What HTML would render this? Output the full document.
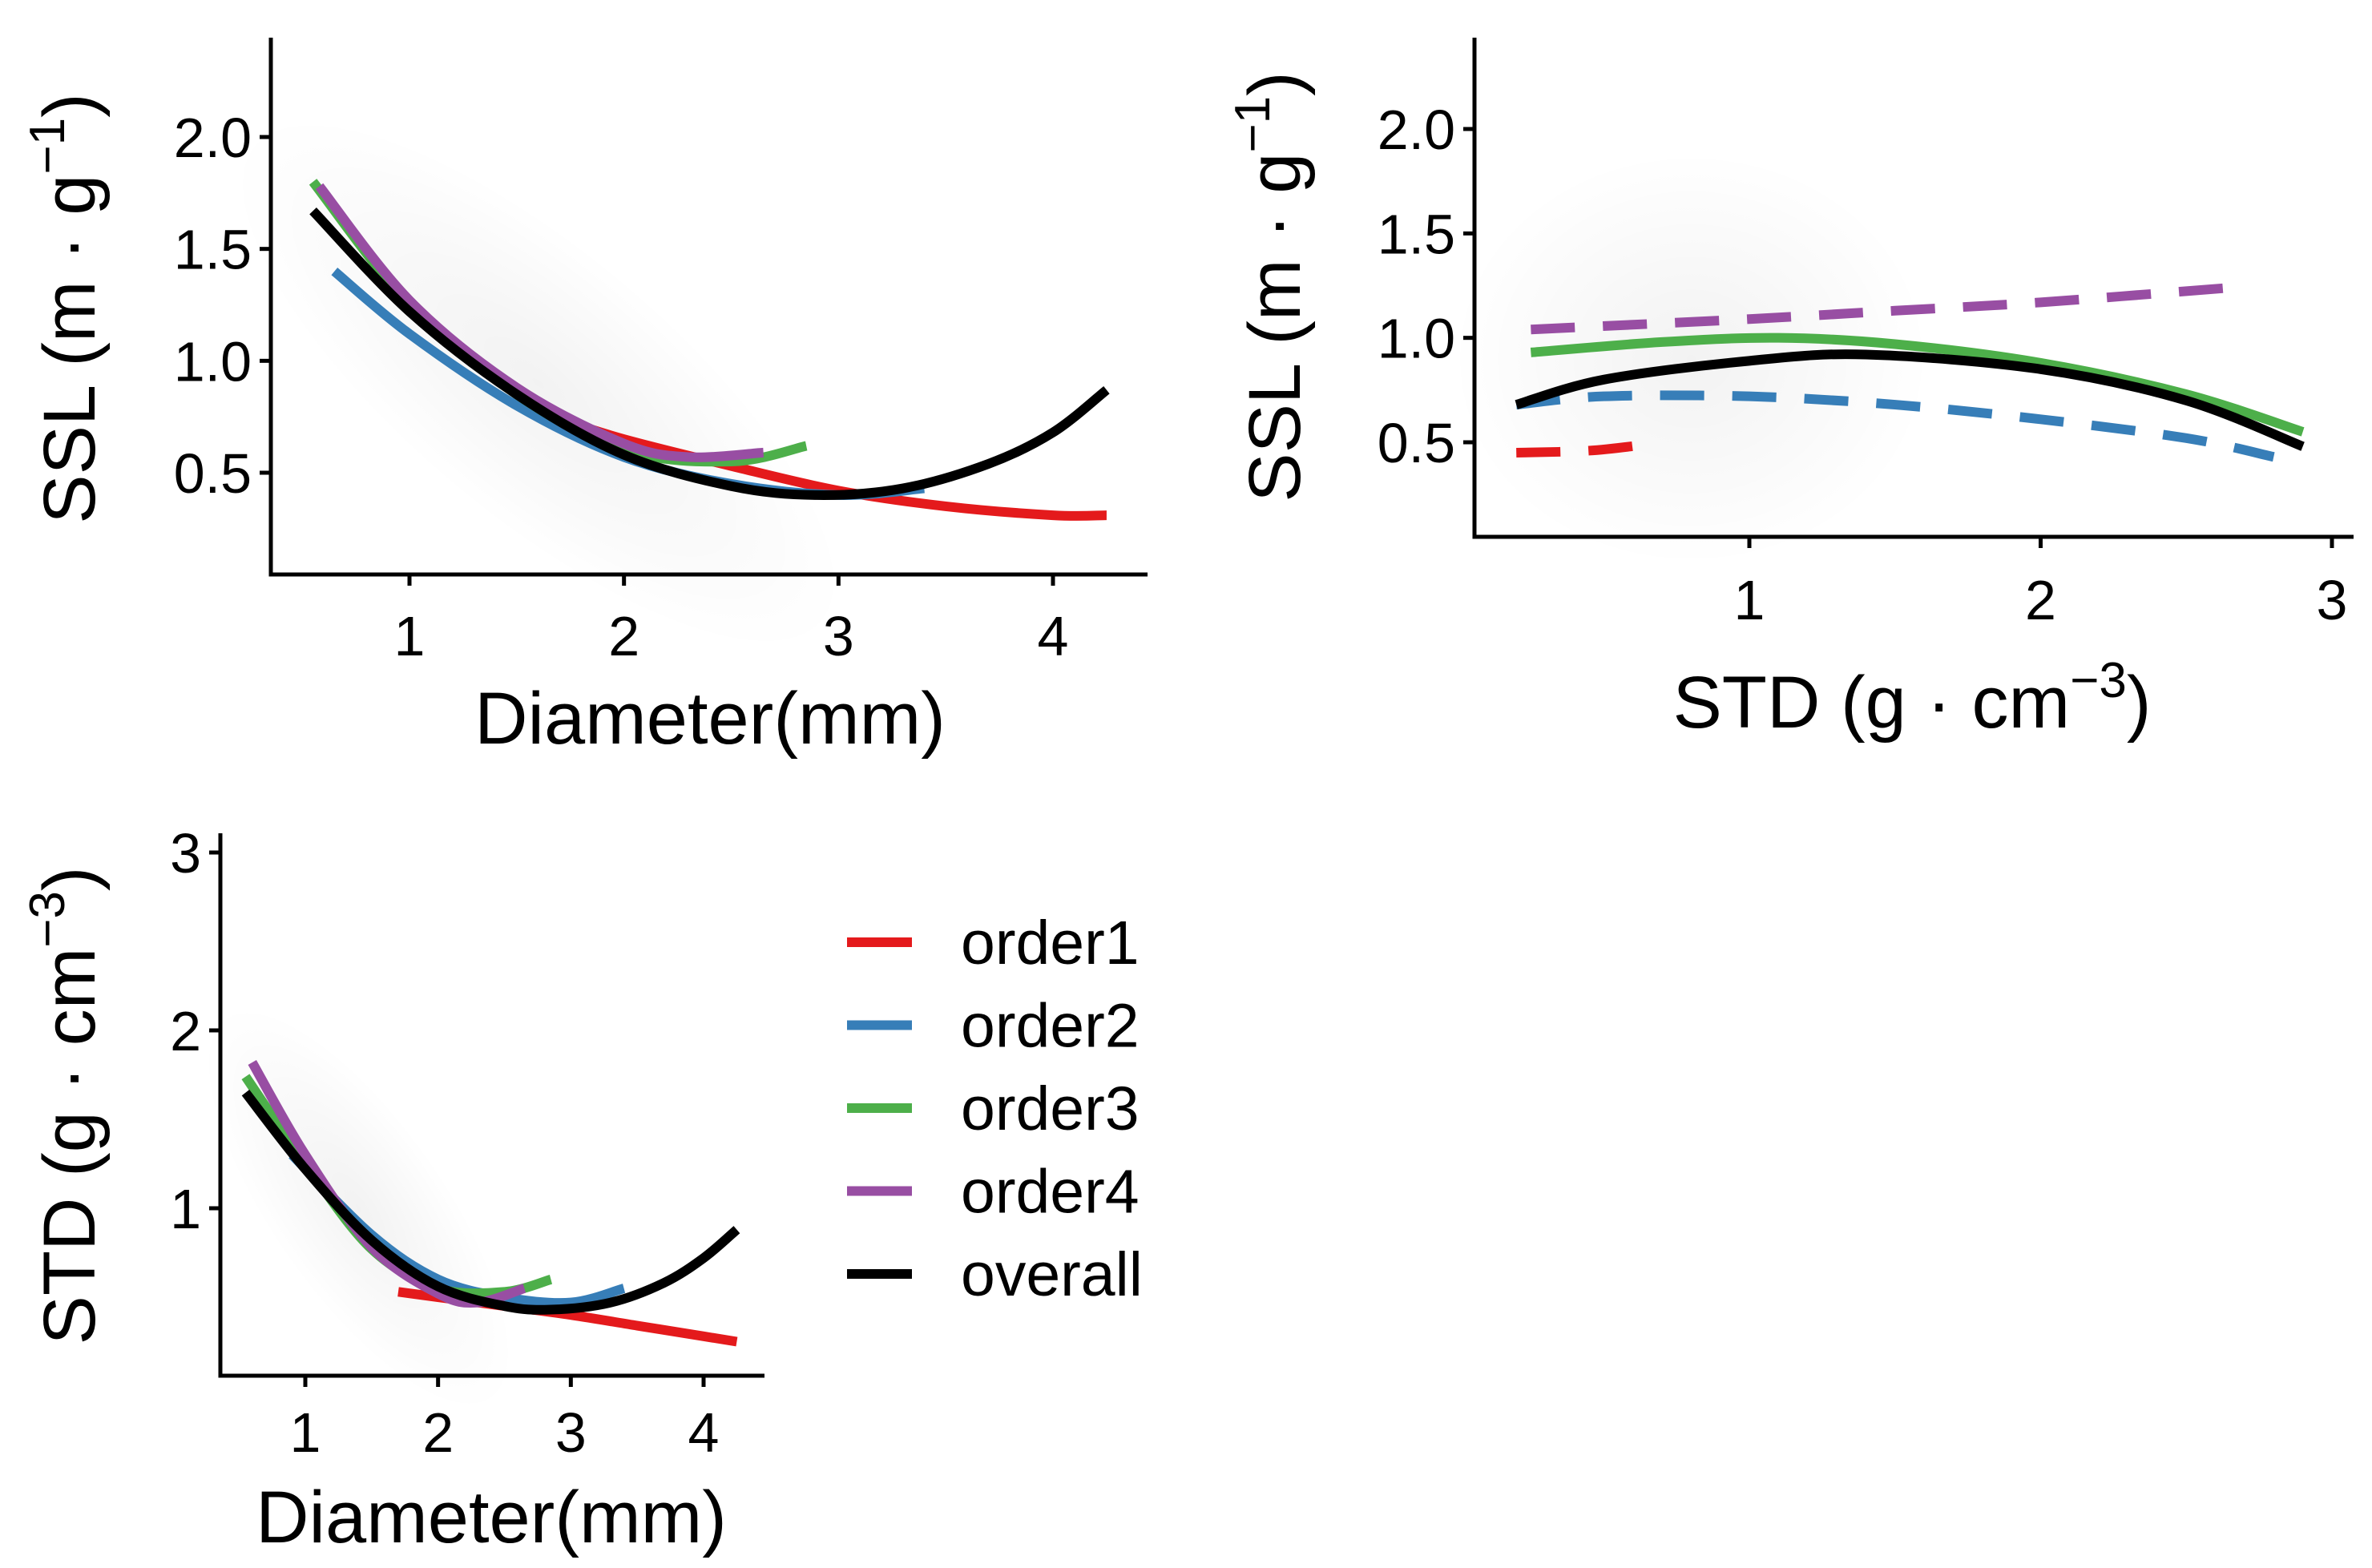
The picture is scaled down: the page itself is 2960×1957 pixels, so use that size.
<!DOCTYPE html>
<html><head><meta charset="utf-8"><style>
body{margin:0;background:#fff}
svg{display:block}
text{font-family:"Liberation Sans",Arial,sans-serif;fill:#000}
</style></head><body>
<svg id="c" width="2960" height="1957" viewBox="0 0 2960 1957" xmlns="http://www.w3.org/2000/svg">
<defs>
<radialGradient id="cl" cx="50%" cy="50%" r="50%"><stop offset="0" stop-color="#000" stop-opacity="0.05"/><stop offset="1" stop-color="#000" stop-opacity="0"/></radialGradient>
</defs>
</svg>
<script>
const colors={order1:"#e41a1c",order2:"#377eb8",order3:"#4daf4a",order4:"#984ea3",overall:"#000000"};
const seriesNames=["order1","order2","order3","order4","overall"];
// Panel 1: Diameter vs SSL
const p1Order1=[[1.7,0.74],[2,0.65],[2.5,0.53],[3,0.42],[3.5,0.35],[4,0.31],[4.25,0.31]];
const p1Order2=[[0.65,1.40],[1,1.12],[1.5,0.80],[2,0.57],[2.5,0.45],[3,0.40],[3.4,0.43]];
const p1Order3=[[0.55,1.80],[1,1.25],[1.5,0.85],[2,0.60],[2.5,0.55],[2.85,0.62]];
const p1Order4=[[0.58,1.78],[1,1.27],[1.5,0.88],[2,0.63],[2.3,0.57],[2.65,0.59]];
const p1Overall=[[0.55,1.67],[1,1.22],[1.5,0.85],[2,0.58],[2.5,0.44],[2.9,0.40],[3.3,0.43],[3.7,0.54],[4,0.68],[4.25,0.87]];
// Panel 2: STD vs SSL
const p2Order1=[[0.2,0.45],[0.45,0.46],[0.65,0.49]];
const p2Order2=[[0.2,0.68],[0.5,0.72],[1,0.72],[1.5,0.68],[2,0.61],[2.5,0.52],[2.8,0.43]];
const p2Order3=[[0.25,0.93],[0.7,0.98],[1.1,1.0],[1.5,0.97],[2,0.88],[2.5,0.73],[2.9,0.55]];
const p2Order4=[[0.25,1.04],[1,1.09],[1.5,1.13],[2,1.17],[2.65,1.24]];
const p2Overall=[[0.2,0.68],[0.5,0.80],[1,0.89],[1.4,0.92],[2,0.85],[2.5,0.70],[2.9,0.48]];
// Panel 3: Diameter vs STD
const p3Order1=[[1.7,0.53],[2,0.50],[2.5,0.45],[3,0.40],[3.5,0.34],[4,0.28],[4.25,0.25]];
const p3Order2=[[0.9,1.3],[1.5,0.85],[2,0.6],[2.5,0.5],[3,0.47],[3.4,0.55]];
const p3Order3=[[0.55,1.74],[1,1.25],[1.5,0.77],[2,0.55],[2.5,0.53],[2.85,0.60]];
const p3Order4=[[0.6,1.82],[1,1.3],[1.5,0.78],[2,0.52],[2.3,0.47],[2.65,0.55]];
const p3Overall=[[0.55,1.65],[1,1.22],[1.5,0.82],[2,0.56],[2.5,0.45],[2.85,0.43],[3.3,0.47],[3.7,0.58],[4,0.72],[4.25,0.88]];
const p1XTicks=[1,2,3,4], p1YTicks=[0.5,1.0,1.5,2.0], p1YLabels=["0.5","1.0","1.5","2.0"];
const p2XTicks=[1,2,3], p2YTicks=[0.5,1.0,1.5,2.0], p2YLabels=["0.5","1.0","1.5","2.0"];
const p3XTicks=[1,2,3,4], p3YTicks=[1,2,3], p3YLabels=["1","2","3"];

const NS="http://www.w3.org/2000/svg";
const svg=document.getElementById('c');
function mk(tag,attrs,parent){const e=document.createElementNS(NS,tag);for(const k in attrs)e.setAttribute(k,attrs[k]);(parent||svg).appendChild(e);return e;}
function scale(d0,d1,r0,r1){return v=>r0+(v-d0)/(d1-d0)*(r1-r0);}
function pathD(pts){
  let d="M"+pts[0][0]+","+pts[0][1];
  for(let i=0;i<pts.length-1;i++){
    const p0=pts[i-1]||pts[i],p1=pts[i],p2=pts[i+1],p3=pts[i+2]||p2;
    const c1=[p1[0]+(p2[0]-p0[0])/6,p1[1]+(p2[1]-p0[1])/6];
    const c2=[p2[0]-(p3[0]-p1[0])/6,p2[1]-(p3[1]-p1[1])/6];
    d+=" C"+c1+" "+c2+" "+p2;
  }
  return d;
}
function panel(cfg){
  const g=mk('g',{});
  
  
  const sx=scale(cfg.xd[0],cfg.xd[1],cfg.px[0],cfg.px[1]);
  const sy=scale(cfg.yd[0],cfg.yd[1],cfg.py[0],cfg.py[1]);
  const cl=mk('ellipse',{cx:sx(cfg.cloud[0]),cy:sy(cfg.cloud[1]),rx:cfg.cloud[2],ry:cfg.cloud[3],fill:"url(#cl)",transform:`rotate(${cfg.cloud[4]} ${sx(cfg.cloud[0])} ${sy(cfg.cloud[1])})`},g);
  
  
  cfg.series.forEach((s,i)=>{
    const p=mk('path',{d:pathD(s.data.map(v=>[sx(v[0]),sy(v[1])])),fill:"none",stroke:colors[s.key],"stroke-width":12,"stroke-linecap":"butt"},g);
    if(s.dash)p.setAttribute('stroke-dasharray','55 35');
    
    
  });
  const ax=mk('path',{d:`M${cfg.axX},${cfg.axTop} V${cfg.axY} H${cfg.axRight}`,fill:"none",stroke:"#000","stroke-width":5},g);
  
  
  cfg.xt.forEach(v=>{
    const t=mk('line',{x1:sx(v),x2:sx(v),y1:cfg.axY,y2:cfg.axY+14,stroke:"#000","stroke-width":5},g);
    
    
    const l=mk('text',{x:sx(v),y:cfg.xLabY,"font-size":70,"text-anchor":"middle"},g);l.textContent=v;
    
    
  });
  cfg.yt.forEach((v,i)=>{
    const t=mk('line',{x1:cfg.axX-14,x2:cfg.axX,y1:sy(v),y2:sy(v),stroke:"#000","stroke-width":5},g);
    
    
    const l=mk('text',{x:cfg.axX-24,y:sy(v)+25,"font-size":70,"text-anchor":"end"},g);l.textContent=cfg.yl[i];
    
    
  });
  const xt=mk('text',{x:cfg.xTitle[0],y:cfg.xTitle[1],"font-size":92,"text-anchor":"middle"},g);xt.innerHTML=cfg.xTitleHTML;
  
  
  const yt=mk('text',{x:0,y:0,"font-size":92,"text-anchor":"middle",transform:`translate(${cfg.yTitle[0]},${cfg.yTitle[1]}) rotate(-90)`},g);yt.innerHTML=cfg.yTitleHTML;
  
  
}
const sslT='SSL (m · g<tspan dy="-38" font-size="62">−1</tspan><tspan dy="38">)</tspan>';
const stdT='STD (g · cm<tspan dy="-38" font-size="62">−3</tspan><tspan dy="38">)</tspan>';
panel({name:"ssl-vs-diameter-panel",xd:[1,4],px:[511,1314],yd:[0.5,2.0],py:[590,171],axX:338,axTop:47,axY:717,axRight:1432,
  xt:p1XTicks,yt:p1YTicks,yl:p1YLabels,xLabY:818,xTitle:[886,928],yTitle:[118,385],xTitleHTML:"Diameter(mm)",yTitleHTML:sslT,
  cloud:[1.6,0.9,480,170,40],
  series:[{key:"order1",data:p1Order1},{key:"order2",data:p1Order2},{key:"order3",data:p1Order3},{key:"order4",data:p1Order4},{key:"overall",data:p1Overall}]});
panel({name:"ssl-vs-std-panel",xd:[1,3],px:[2183,2910],yd:[0.5,2.0],py:[552,161],axX:1840,axTop:47,axY:670,axRight:2937,
  xt:p2XTicks,yt:p2YTicks,yl:p2YLabels,xLabY:773,xTitle:[2386,908],yTitle:[1622,358],xTitleHTML:"STD (g · cm<tspan dy='-38' font-size='62'>−3</tspan><tspan dy='38'>)</tspan>",yTitleHTML:sslT,
  cloud:[0.8,0.9,300,260,0],
  series:[{key:"order1",data:p2Order1,dash:1},{key:"order2",data:p2Order2,dash:1},{key:"order3",data:p2Order3},{key:"order4",data:p2Order4,dash:1},{key:"overall",data:p2Overall}]});
panel({name:"std-vs-diameter-panel",xd:[1,4],px:[381,878],yd:[1,3],py:[1508,1064],axX:275,axTop:1040,axY:1717,axRight:954,
  xt:p3XTicks,yt:p3YTicks,yl:p3YLabels,xLabY:1812,xTitle:[613,1925],yTitle:[118,1380],xTitleHTML:"Diameter(mm)",yTitleHTML:stdT,
  cloud:[1.4,1.0,300,110,55],
  series:[{key:"order1",data:p3Order1},{key:"order2",data:p3Order2},{key:"order3",data:p3Order3},{key:"order4",data:p3Order4},{key:"overall",data:p3Overall}]});
// legend
const lg=mk('g',{});


seriesNames.forEach((k,i)=>{
  const y=1176+i*103.5;
  const ln=mk('line',{x1:1057,x2:1138,y1:y,y2:y,stroke:colors[k],"stroke-width":12},lg);
  
  
  const t=mk('text',{x:1199,y:y+27,"font-size":77},lg);t.textContent=k;
  
  
});
</script>
</body></html>
